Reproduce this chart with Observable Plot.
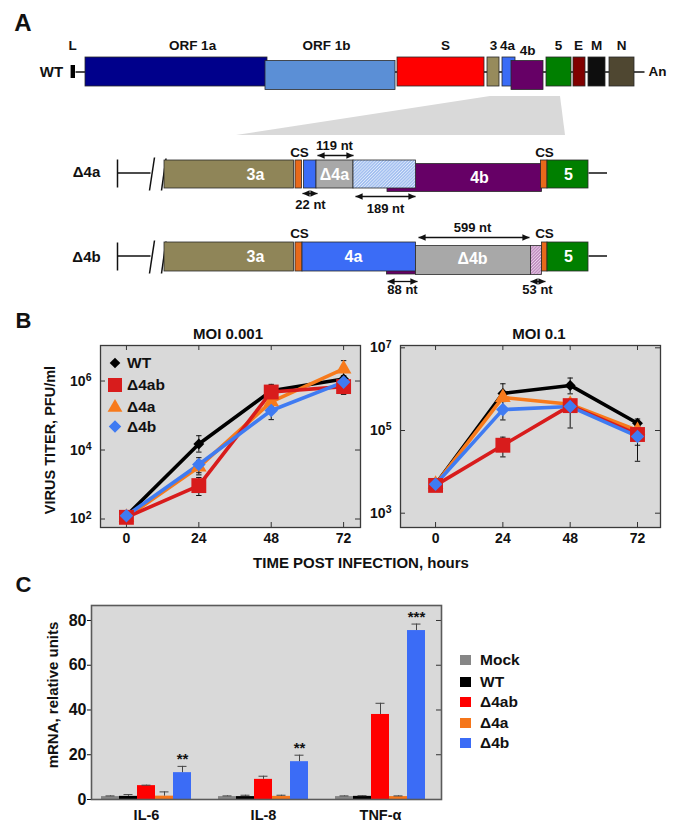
<!DOCTYPE html>
<html><head><meta charset="utf-8">
<script src="https://cdn.jsdelivr.net/npm/d3@7"></script>
<script src="https://cdn.jsdelivr.net/npm/@observablehq/plot@0.6"></script>
<style>
body{margin:0;background:#fff;}
#root{position:relative;width:693px;height:832px;overflow:hidden;font-family:"Liberation Sans",Arial,Helvetica,sans-serif;font-weight:bold;color:#111;}
.t{position:absolute;white-space:nowrap;line-height:1;}
svg{overflow:visible;}
</style></head><body><div id="root"></div>
<script>
// ---------------- DATA ----------------
// Panel A: genome map (diagram units along the genome)
const wtGenes   = ["ORF 1a","ORF 1b","S","3","4a","4b","5","E","M","N"];
const wtStart   = [85, 265, 397, 487, 502, 511, 546, 573, 588, 609];
const wtEnd     = [267, 395, 484, 499, 515, 543, 571, 585, 605, 634];
const wtLowered = ["n","low","n","n","n","low","n","n","n","n"];
const wtLabelX  = [192, 326, 445, 493, 507, 527, 558, 578, 596, 621];

const d4aKind  = ["3a","CS","4a","del","4b","hatchBlue","CS","5"];
const d4aStart = [164, 295, 303.5, 316, 387, 353, 540.5, 547];
const d4aEnd   = [293.5, 301.5, 316, 353, 541.5, 415.5, 547, 588];
const d4aLevel = ["n","n","n","n","low","n","n","n"];
const d4aText  = ["3a","Δ4a","4b","5"];
const d4aTextX = [255, 334, 479, 568];

const d4bKind  = ["3a","CS","4b","4a","del","hatchPink","CS","5"];
const d4bStart = [164, 295, 386.5, 302, 415.5, 530.5, 541.5, 547];
const d4bEnd   = [293.5, 302, 416, 415.5, 530.5, 541.5, 547, 588];
const d4bLevel = ["n","n","stub","n","low","low","n","n"];
const d4bText  = ["3a","4a","Δ4b","5"];
const d4bTextX = [255, 353, 472, 568];

const ntLabels = ["119 nt","22 nt","189 nt","599 nt","88 nt","53 nt"];
const ntFrom   = [317, 302, 355, 418, 387, 530];
const ntTo     = [353, 317, 415, 529, 417, 545];
const ntRow    = ["d4a","d4a","d4a","d4b","d4b","d4b"];

// Panel B: virus growth (PFU/ml); strain order WT, Δ4ab, Δ4a, Δ4b
const times    = [0, 24, 48, 72];
const bStrains = ["WT","Δ4ab","Δ4a","Δ4b"];
const moi001Titer = [[125,1.5e4,5.2e5,1.15e6],[112,930,4.8e5,6.9e5],[112,3.2e3,2.5e5,2.25e6],[125,3.8e3,1.4e5,9.3e5]];
const moi001Low   = [[105,8.7e3,3.6e5,9.5e5],[95,480,3.1e5,4.1e5],[95,1.9e3,1.8e5,1.4e6],[105,2.2e3,7.6e4,7.5e5]];
const moi001High  = [[150,2.6e4,8.0e5,1.4e6],[130,1.6e3,7.4e5,1.1e6],[130,5.0e3,3.4e5,3.9e6],[150,6.0e3,2.45e5,1.15e6]];
const moi01Titer  = [[5.0e3,7.9e5,1.23e6,1.5e5],[4.7e3,4.4e4,4.0e5,8.0e4],[5.0e3,6.3e5,4.3e5,1.0e5],[5.0e3,3.2e5,3.8e5,7.2e4]];
const moi01Low    = [[4.3e3,5.5e5,7.7e5,1.2e5],[4.0e3,2.3e4,1.15e5,4.4e4],[4.3e3,5.0e5,3.3e5,8.0e4],[4.3e3,1.8e5,2.8e5,1.8e4]];
const moi01High   = [[5.8e3,1.35e6,1.86e6,1.9e5],[5.5e3,6.9e4,5.5e5,1.0e5],[5.8e3,7.5e5,5.5e5,1.25e5],[5.8e3,5.3e5,5.0e5,9.5e4]];
const moi001YTicks = [1e2, 1e4, 1e6];
const moi01YTicks  = [1e3, 1e5, 1e7];

// Panel C: cytokine mRNA (relative units)
const cytokines = ["IL-6","IL-8","TNF-α"];
const cStrains  = ["Mock","WT","Δ4ab","Δ4a","Δ4b"];
const cMean  = [[1.3,1.4,6.2,1.5,12.0],[1.3,1.3,9.0,1.4,16.9],[1.3,1.4,38.0,1.3,75.5]];
const cUpper = [[1.6,2.2,6.4,3.4,14.8],[1.6,1.9,10.4,1.9,19.8],[1.6,1.7,43.0,1.6,78.4]];
const cStars = [["","","","","**"],["","","","","**"],["","","","","***"]];
const cYTicks = [0, 20, 40, 60, 80];

// ---------------- STYLE ----------------
const FONT = "'Liberation Sans', Arial, Helvetica, sans-serif";
const fillOf = {"ORF 1a":"#00008b","ORF 1b":"#5b8fd6","S":"#ff0000","3":"#978b5c","3a":"#8f8558","4a":"#3b6cf6",
  "4b":"#660066","5":"#007f00","E":"#800000","M":"#0e0e0e","N":"#4f4731","CS":"#e8691a","del":"#a8a8a8",
  "hatchBlue":"url(#hatchBlue)","hatchPink":"url(#hatchPink)","L":"#000"};
const bColor = {"WT":"#000000","Δ4ab":"#d81c1c","Δ4a":"#f77a1c","Δ4b":"#3f7bf2"};
const bSymbol = {"WT":"diamond2","Δ4ab":"square","Δ4a":"triangle","Δ4b":"diamond2"};
const bRadius = {"WT":4.9,"Δ4ab":8.4,"Δ4a":5.8,"Δ4b":6.1};
const cColors = ["#868686","#000000","#ff0000","#f5761a","#3b6cf6"];

const root = document.getElementById("root");
function put(node, left, top) {
  node.style.position = "absolute"; node.style.left = left + "px"; node.style.top = top + "px";
  root.appendChild(node); return node;
}
function txt(s, x, y, size, opt = {}) {
  const d = document.createElement("div");
  d.className = "t"; d.textContent = s; d.style.fontSize = size + "px";
  d.style.left = x + "px"; d.style.top = y + "px";
  let tr = opt.anchor === "start" ? "translate(0,-50%)" : "translate(-50%,-50%)";
  if (opt.rotate) tr += " rotate(-90deg)";
  d.style.transform = tr;
  root.appendChild(d); return d;
}

// ---------------- PANEL A ----------------
const rowGeom = {wt: {top: 57, bottom: 86, line: 71.5}, d4a: {top: 160, bottom: 188, line: 172.5}, d4b: {top: 242, bottom: 271, line: 255.5}};
function boxY(row, level) {
  const g = rowGeom[row];
  if (level === "low") return [g.top + 3.5, g.bottom + 3.5];
  if (level === "stub") return [g.bottom - 2.5, g.bottom + 3];
  return [g.top, g.bottom];
}
const aBoxes = [];
wtGenes.forEach((g, i) => { const [y1, y2] = boxY("wt", wtLowered[i]); aBoxes.push({x1: wtStart[i], x2: wtEnd[i], y1, y2, fill: fillOf[g]}); });
d4aKind.forEach((k, i) => { const [y1, y2] = boxY("d4a", d4aLevel[i]); aBoxes.push({x1: d4aStart[i], x2: d4aEnd[i], y1, y2, fill: fillOf[k]}); });
d4bKind.forEach((k, i) => { const [y1, y2] = boxY("d4b", d4bLevel[i]); aBoxes.push({x1: d4bStart[i], x2: d4bEnd[i], y1, y2, fill: fillOf[k]}); });

const geneLabels = wtGenes.map((g, i) => ({x: wtLabelX[i], y: g === "4b" ? 50 : 45, text: g}));
geneLabels.push({x: 72, y: 45, text: "L"});
const whiteLabels = [
  ...d4aText.map((t, i) => ({x: d4aTextX[i], y: t === "4b" ? rowGeom.d4a.line + 4.5 : rowGeom.d4a.line + 1.5, text: t})),
  ...d4bText.map((t, i) => ({x: d4bTextX[i], y: t === "Δ4b" ? rowGeom.d4b.line + 3 : rowGeom.d4b.line + 1, text: t}))
];
const backbone = [
  {x1: 75, x2: 644, y1: rowGeom.wt.line, y2: rowGeom.wt.line},
  {x1: 117, x2: 150, y1: rowGeom.d4a.line, y2: rowGeom.d4a.line},
  {x1: 588, x2: 606.5, y1: rowGeom.d4a.line, y2: rowGeom.d4a.line},
  {x1: 117, x2: 150, y1: rowGeom.d4b.line, y2: rowGeom.d4b.line},
  {x1: 588, x2: 606.5, y1: rowGeom.d4b.line, y2: rowGeom.d4b.line},
  {x1: 117, x2: 117, y1: 159, y2: 187}, {x1: 117, x2: 117, y1: 242, y2: 270},
  {x1: 149, x2: 154, y1: 190, y2: 157}, {x1: 161, x2: 165.5, y1: 190, y2: 158},
  {x1: 149, x2: 154, y1: 273, y2: 240}, {x1: 161, x2: 165.5, y1: 273, y2: 241}
];
const ntArrowY = {d4a: [155, 193, 196], d4b: [237, 281, 281]};
const ntTextY = {d4a: [145, 204, 208], d4b: [227, 289, 289]};
const ntTextX = [334, 310, 385, 472, 402, 537];
const ntRows = ntLabels.map((t, i) => {
  const j = i % 3, r = ntRow[i];
  return {text: t, from: ntFrom[i], to: ntTo[i], ay: ntArrowY[r][j], ty: ntTextY[r][j], tx: ntTextX[i]};
});
const csLabels = [{x: 299, y: 152}, {x: 544, y: 152}, {x: 299, y: 233}, {x: 544, y: 233}].map(d => ({...d, text: "CS"}));
const trapezoid = [{y: 96, x1: 490, x2: 560}, {y: 135, x1: 236, x2: 565}];

function head(orient) {
  return (color) => {
    const m = d3.create("svg:marker").attr("viewBox", "-8 -4 8 8").attr("markerWidth", 5.5).attr("markerHeight", 5.5)
      .attr("orient", orient).attr("fill", color).attr("stroke", "none");
    m.append("path").attr("d", "M-8,-3.6L0,0L-8,3.6Z");
    return m.node();
  };
}

const plotA = Plot.plot({
  width: 693, height: 300, margin: 0,
  x: {domain: [0, 693], range: [0, 693], axis: null},
  y: {domain: [0, 300], range: [0, 300], axis: null},
  color: {type: "identity"},
  style: {fontFamily: FONT, fontWeight: "bold", background: "transparent", color: "#111"},
  marks: [
    Plot.areaX(trapezoid, {y: "y", x1: "x1", x2: "x2", fill: "#d9d9d9", curve: "linear"}),
    Plot.link(backbone, {x1: "x1", x2: "x2", y1: "y1", y2: "y2", stroke: "#111", strokeWidth: 1.5}),
    Plot.rect([{x1: 70.6, x2: 75, y1: 65, y2: 78}], {x1: "x1", x2: "x2", y1: "y1", y2: "y2", fill: "#000"}),
    Plot.rect(aBoxes, {x1: "x1", x2: "x2", y1: "y1", y2: "y2", fill: "fill", stroke: "#2a2a2a", strokeWidth: 0.8}),
    Plot.text(geneLabels, {x: "x", y: "y", text: "text", fontSize: 13.5, fontWeight: "bold", fill: "#111"}),
    Plot.text([{x: 51, y: 71.5, text: "WT"}, {x: 86, y: 172, text: "Δ4a"}, {x: 86, y: 256.5, text: "Δ4b"}], {x: "x", y: "y", text: "text", fontSize: 15, fontWeight: "bold", fill: "#111"}),
    Plot.text([{x: 648, y: 71.5, text: "An"}], {x: "x", y: "y", text: "text", fontSize: 13.5, fontWeight: "bold", textAnchor: "start", fill: "#111"}),
    Plot.text(whiteLabels, {x: "x", y: "y", text: "text", fontSize: 16, fontWeight: "bold", fill: "#ffffff"}),
    Plot.text(csLabels, {x: "x", y: "y", text: "text", fontSize: 13.5, fontWeight: "bold", fill: "#111"}),
    Plot.link(ntRows, {x1: "from", x2: "to", y1: "ay", y2: "ay", stroke: "#111", strokeWidth: 1.3, markerStart: head("auto-start-reverse"), markerEnd: head("auto")}),
    Plot.text(ntRows, {x: "tx", y: "ty", text: "text", fontSize: 13, fontWeight: "bold", fill: "#111"})
  ]
});
{
  const defs = d3.select(plotA).insert("defs", ":first-child");
  const pb = defs.append("pattern").attr("id", "hatchBlue").attr("patternUnits", "userSpaceOnUse").attr("width", 2.2).attr("height", 2.2).attr("patternTransform", "rotate(45)");
  pb.append("rect").attr("width", 2.2).attr("height", 2.2).attr("fill", "#a3bff0");
  pb.append("line").attr("x1", 0.4).attr("y1", 0).attr("x2", 0.4).attr("y2", 2.2).attr("stroke", "#e4edfc").attr("stroke-width", 0.7);
  const pp = defs.append("pattern").attr("id", "hatchPink").attr("patternUnits", "userSpaceOnUse").attr("width", 2.2).attr("height", 2.2).attr("patternTransform", "rotate(45)");
  pp.append("rect").attr("width", 2.2).attr("height", 2.2).attr("fill", "#c190c0");
  pp.append("line").attr("x1", 0.4).attr("y1", 0).attr("x2", 0.4).attr("y2", 2.2).attr("stroke", "#eed8ee").attr("stroke-width", 0.7);
}
put(plotA, 0, 0);
txt("A", 23, 23, 24);

// ---------------- PANEL B ----------------
const capSymbol = {draw(ctx, size) { const r = Math.sqrt(size / Math.PI); ctx.moveTo(-r, 0); ctx.lineTo(r, 0); }};
function superscriptTicks(svg) {
  d3.select(svg).selectAll("text").each(function () {
    const m = /^10\^(-?\d+)$/.exec(this.textContent);
    if (!m) return;
    const s = d3.select(this);
    s.text(null);
    s.append("tspan").text("10");
    s.append("tspan").attr("dy", "-0.45em").attr("font-size", "0.75em").text(m[1]);
  });
}
function growthPlot(titer, low, high, xDomain, yDomain, yTicks, width, ml, mr) {
  const rows = [];
  bStrains.forEach((s, i) => times.forEach((t, j) => rows.push({strain: s, time: t, value: titer[i][j], lo: low[i][j], hi: high[i][j]})));
  const fw = width - ml - mr, fh = 182;
  const order = ["WT", "Δ4a", "Δ4ab", "Δ4b"];
  const marks = [
    Plot.frame({fill: "#d9d9d9"}),
    Plot.tickY(yTicks, {y: d => d, insetRight: fw - 5, stroke: "#333"}),
    Plot.tickY(yTicks, {y: d => d, insetLeft: fw - 5, stroke: "#333"}),
    Plot.tickX(times, {x: d => d, insetBottom: fh - 5, stroke: "#333"}),
    Plot.tickX(times, {x: d => d, insetTop: fh - 5, stroke: "#333"}),
    Plot.ruleX(rows, {x: "time", y1: "lo", y2: "hi", stroke: "#111", strokeWidth: 1}),
    Plot.dot(rows, {x: "time", y: "lo", symbol: capSymbol, r: 2.7, fill: "none", stroke: "#111", strokeWidth: 1}),
    Plot.dot(rows, {x: "time", y: "hi", symbol: capSymbol, r: 2.7, fill: "none", stroke: "#111", strokeWidth: 1})
  ];
  for (const s of order) marks.push(Plot.line(rows.filter(d => d.strain === s), {x: "time", y: "value", stroke: bColor[s], strokeWidth: 3.6}));
  for (const s of order) marks.push(Plot.dot(rows.filter(d => d.strain === s), {x: "time", y: "value", symbol: bSymbol[s], r: bRadius[s], fill: bColor[s], stroke: "none"}));
  marks.push(Plot.frame({stroke: "#3a3a3a", strokeWidth: 1.3}));
  const svg = Plot.plot({
    width, height: 260, marginLeft: ml, marginRight: mr, marginTop: 45, marginBottom: 33,
    style: {fontFamily: FONT, fontWeight: "bold", fontSize: "14px", background: "transparent", color: "#111"},
    x: {domain: xDomain, ticks: times, tickSize: 0, tickPadding: 6, label: null},
    y: {type: "log", domain: yDomain, ticks: yTicks, tickSize: 0, tickPadding: 9, tickFormat: d => "10^" + Math.round(Math.log10(d)), label: null},
    marks
  });
  superscriptTicks(svg);
  return svg;
}
put(growthPlot(moi001Titer, moi001Low, moi001High, [-8.6, 77.6], [Math.pow(10, 1.754), Math.pow(10, 7.03)], moi001YTicks, 370, 100, 10), 0, 300);
put(growthPlot(moi01Titer, moi01Low, moi01High, [-12.5, 80.2], [Math.pow(10, 2.654), Math.pow(10, 7.056)], moi01YTicks, 323, 30, 33), 370, 300);

txt("B", 23.5, 321, 22);
txt("MOI 0.001", 228, 333, 15);
txt("MOI 0.1", 539, 333, 15);
txt("VIRUS TITER, PFU/ml", 50, 440, 14.5, {rotate: true});
txt("TIME POST INFECTION, hours", 361, 562, 15);

// legend B
{
  const legY = [363, 385, 406.5, 426.5];
  const symSize = {"WT": 72, "Δ4ab": 196, "Δ4a": 95, "Δ4b": 100};
  const symType = {"WT": d3.symbolDiamond2, "Δ4ab": d3.symbolSquare, "Δ4a": d3.symbolTriangle, "Δ4b": d3.symbolDiamond2};
  const leg = d3.create("svg").attr("width", 30).attr("height", 100);
  bStrains.forEach((s, i) => {
    leg.append("path").attr("transform", `translate(15,${legY[i] - 350 + (s === "Δ4a" ? 1 : 0)})`)
      .attr("d", d3.symbol(symType[s], symSize[s])()).attr("fill", bColor[s]);
    txt(s, 127, legY[i], 15.5, {anchor: "start"});
  });
  put(leg.node(), 100, 350);
}

// ---------------- PANEL C ----------------
const cRows = [];
cytokines.forEach((c, i) => cStrains.forEach((s, j) => cRows.push({cytokine: c, strain: s, value: cMean[i][j], upper: cUpper[i][j], star: cStars[i][j]})));
const cDims = {width: 460, height: 242, marginLeft: 91, marginRight: 19, marginTop: 15, marginBottom: 33};
const cStyle = {fontFamily: FONT, fontWeight: "bold", background: "transparent", color: "#111"};
const cBg = Plot.plot({...cDims, style: cStyle, marks: [Plot.frame({fill: "#d9d9d9"})]});
const cBars = Plot.plot({
  ...cDims, style: {...cStyle, fontSize: "14.5px"},
  facet: {data: cRows, x: "cytokine"},
  fx: {domain: cytokines, paddingInner: 0.23, paddingOuter: 0.107, align: 0.39, axis: "bottom", tickSize: 0, tickPadding: 10, label: null},
  x: {domain: cStrains, padding: 0, axis: null},
  y: {domain: [0, 86.7], axis: null},
  color: {domain: cStrains, range: cColors},
  marks: [
    Plot.barY(cRows, {x: "strain", y: "value", fill: "strain"}),
    Plot.ruleX(cRows, {x: "strain", y1: "value", y2: "upper", stroke: "#454545", strokeWidth: 1}),
    Plot.tickY(cRows, {x: "strain", y: "upper", stroke: "#454545", strokeWidth: 1, insetLeft: 4.5, insetRight: 4.5}),
    Plot.text(cRows, {x: "strain", y: "upper", text: "star", dy: -7, fontSize: 15, fontWeight: "bold", fill: "#111"})
  ]
});
const cOver = Plot.plot({
  ...cDims, style: {...cStyle, fontSize: "16px"},
  y: {domain: [0, 86.7], ticks: cYTicks, tickSize: 4, tickPadding: 1, label: null},
  marks: [
    Plot.tickY(cYTicks.filter(d => d > 0), {y: d => d, insetLeft: 350 - 5, stroke: "#333"}),
    Plot.frame({stroke: "#5a5a5a", strokeWidth: 1.6})
  ]
});
put(cBg, 0, 590); put(cBars, 0, 590); put(cOver, 0, 590);
txt("C", 23.5, 585, 22);
txt("mRNA, relative units", 52, 695, 15, {rotate: true});

// legend C
{
  const legY = [660, 681.5, 702, 723, 743];
  cStrains.forEach((s, i) => {
    const sw = document.createElement("div");
    sw.style.width = "11px"; sw.style.height = "10px"; sw.style.background = cColors[i];
    put(sw, 460, legY[i] - 5);
    txt(s, 480, legY[i], 15.5, {anchor: "start"});
  });
}
</script></body></html>
